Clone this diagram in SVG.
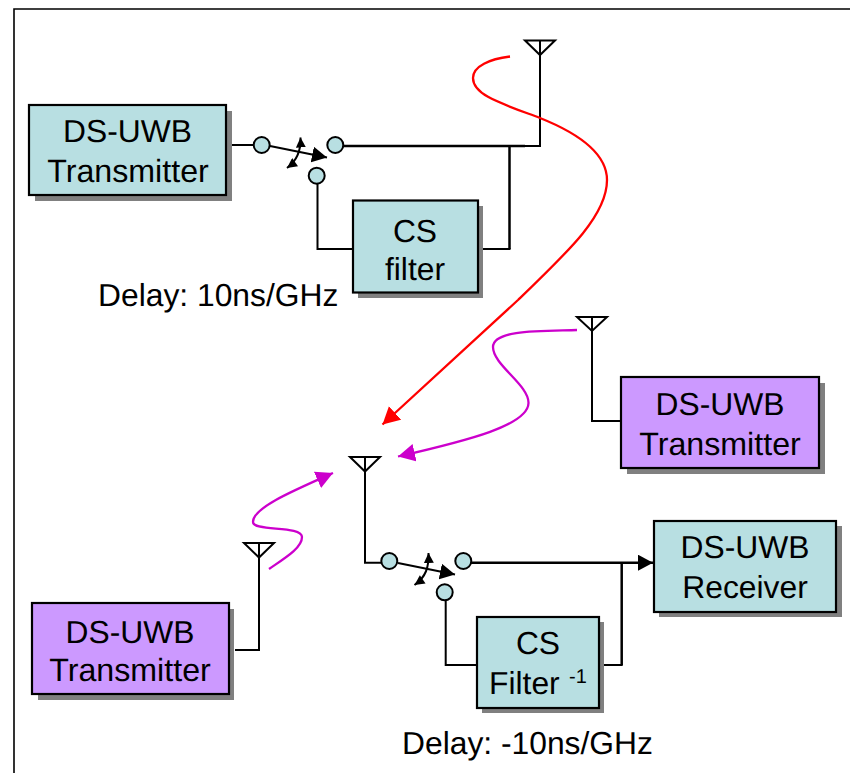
<svg xmlns="http://www.w3.org/2000/svg" width="850" height="773" viewBox="0 0 850 773">
<style>
text{font-family:"Liberation Sans",Arial,sans-serif;font-size:31.8px;fill:#000;text-rendering:geometricPrecision}
.m{text-anchor:middle}
.l{font-size:32.2px}
.box{stroke:#000;stroke-width:2.2}
.teal{fill:#B8DFE2}
.pur{fill:#CC99FF}
.sh{fill:#808080}
.w{fill:none;stroke:#000;stroke-width:2;stroke-linejoin:miter}
.t{fill:none;stroke:#000;stroke-width:2.5}
.ant{fill:none;stroke:#000;stroke-width:2}
.c{fill:#B8DFE2;stroke:#000;stroke-width:2}
.red{fill:none;stroke:#F00;stroke-width:2.3}
.mag{fill:none;stroke:#C0C;stroke-width:2.3}
</style>
<defs>
<marker id="hb" markerUnits="userSpaceOnUse" markerWidth="17" markerHeight="17" refX="15" refY="8" orient="auto"><path d="M0,0L15,8L0,16Z" fill="#000"/></marker>
<marker id="hs" markerUnits="userSpaceOnUse" markerWidth="11" markerHeight="11" refX="10" refY="5" orient="auto"><path d="M0,0L10,5L0,10Z" fill="#000"/></marker>
<marker id="hss" markerUnits="userSpaceOnUse" markerWidth="11" markerHeight="11" refX="0" refY="5" orient="auto"><path d="M10,0L0,5L10,10Z" fill="#000"/></marker>
<marker id="hr" markerUnits="userSpaceOnUse" markerWidth="20" markerHeight="20" refX="17" refY="9" orient="auto"><path d="M0,0L17,9L0,18Z" fill="#F00"/></marker>
<marker id="hm" markerUnits="userSpaceOnUse" markerWidth="20" markerHeight="20" refX="17" refY="9" orient="auto"><path d="M0,0L17,9L0,18Z" fill="#C0C"/></marker>
</defs>
<rect width="850" height="773" fill="#fff"/>
<path d="M14,773V9H850" fill="none" stroke="#000" stroke-width="1.6"/>
<g id="connectors">
<path class="w" d="M231,145H254"/>
<path class="t" d="M343,146H525"/>
<path class="w" d="M525,146H540V42"/>
<path class="t" d="M509.500,146V249"/>
<path class="w" d="M510.500,249H482"/>
<path class="w" d="M317.500,184V249H353"/>
<path class="w" d="M270,146L327,157.500" marker-end="url(#hb)"/>
<path class="w" d="M287,168C298,160 301,150 300.500,137.500" marker-start="url(#hss)" marker-end="url(#hs)"/>
<path class="w" d="M592,318V421H621"/>
<path class="w" d="M365,458V562.700H382"/>
<path class="w" d="M259,544V650H235"/>
<path class="w" d="M398,563L455,574.500" marker-end="url(#hb)"/>
<path class="w" d="M414.500,585C426,577 429,567 428.500,553" marker-start="url(#hss)" marker-end="url(#hs)"/>
<path class="t" d="M471,562.700H653" marker-end="url(#hb)"/>
<path class="t" d="M621.700,562V665"/>
<path class="w" d="M622.700,665H602"/>
<path class="w" d="M445.700,600V665H477"/>
<path class="red" d="M510,56.500C490,59 473,66 473,78C473,95 500,103 540,118C580,134 607,155 607,180C607,215 570,250 518,300L382.500,424.500" marker-end="url(#hr)"/>
<path class="mag" d="M577,330C545,331 493,329 493,347C493,365 529,385 528.500,403C528,425 470,440 398,456.500" marker-end="url(#hm)"/>
<path class="mag" d="M269,569C285,558 302,548 302,537C302,525 253,532 253,522C253,508 290,492 333,473" marker-end="url(#hm)"/>
</g>
<g id="antenna1"><path class="ant" d="M525,40.500H555L540,55ZM540,40.500V55"/></g>
<g id="antenna2"><path class="ant" d="M577,317H607L592,331ZM592,317V331"/></g>
<g id="antenna3"><path class="ant" d="M350,457H380L365,471.500ZM365,457V471.500"/></g>
<g id="antenna4"><path class="ant" d="M244,543H274L259,557.500ZM259,543V557.500"/></g>
<g id="switch1"><circle class="c" cx="261.700" cy="145" r="8"/><circle class="c" cx="335.300" cy="145" r="8"/><circle class="c" cx="316.700" cy="175.700" r="8"/></g>
<g id="switch2"><circle class="c" cx="389.300" cy="561" r="8"/><circle class="c" cx="463.300" cy="561" r="8"/><circle class="c" cx="444.700" cy="592.300" r="8"/></g>
<g id="tx1"><rect class="sh" x="35" y="111" width="197" height="90"/><rect class="box teal" x="29" y="105" width="197" height="90"/><text class="m" x="127.500" y="142">DS-UWB</text><text class="m l" x="128" y="182">Transmitter</text></g>
<g id="csfilter"><rect class="sh" x="358" y="206" width="125" height="92"/><rect class="box teal" x="353" y="200.500" width="125" height="92"/><text class="m" x="415" y="241.500">CS</text><text class="m" x="415" y="280">filter</text></g>
<g id="tx2"><rect class="sh" x="627" y="383" width="198" height="91"/><rect class="box pur" x="621" y="377" width="198" height="91"/><text class="m" x="720" y="415">DS-UWB</text><text class="m l" x="720" y="455">Transmitter</text></g>
<g id="tx3"><rect class="sh" x="38" y="609" width="196" height="91"/><rect class="box pur" x="32" y="603" width="197" height="91"/><text class="m" x="130" y="643">DS-UWB</text><text class="m l" x="130" y="681">Transmitter</text></g>
<g id="rx"><rect class="sh" x="659" y="526" width="183" height="91"/><rect class="box teal" x="654" y="521" width="182" height="91"/><text class="m" x="745" y="558">DS-UWB</text><text class="m" x="745" y="598">Receiver</text></g>
<g id="csfilterinv"><rect class="sh" x="482" y="622" width="122" height="91"/><rect class="box teal" x="477" y="617" width="122" height="91"/><text class="m" x="538" y="654">CS</text><text x="489" y="694">Filter</text><text x="569" y="683" style="font-size:20px">-1</text></g>
<text id="delay1" x="98" y="306">Delay: 10ns/GHz</text>
<text id="delay2" x="402" y="754">Delay: -10ns/GHz</text>
</svg>
